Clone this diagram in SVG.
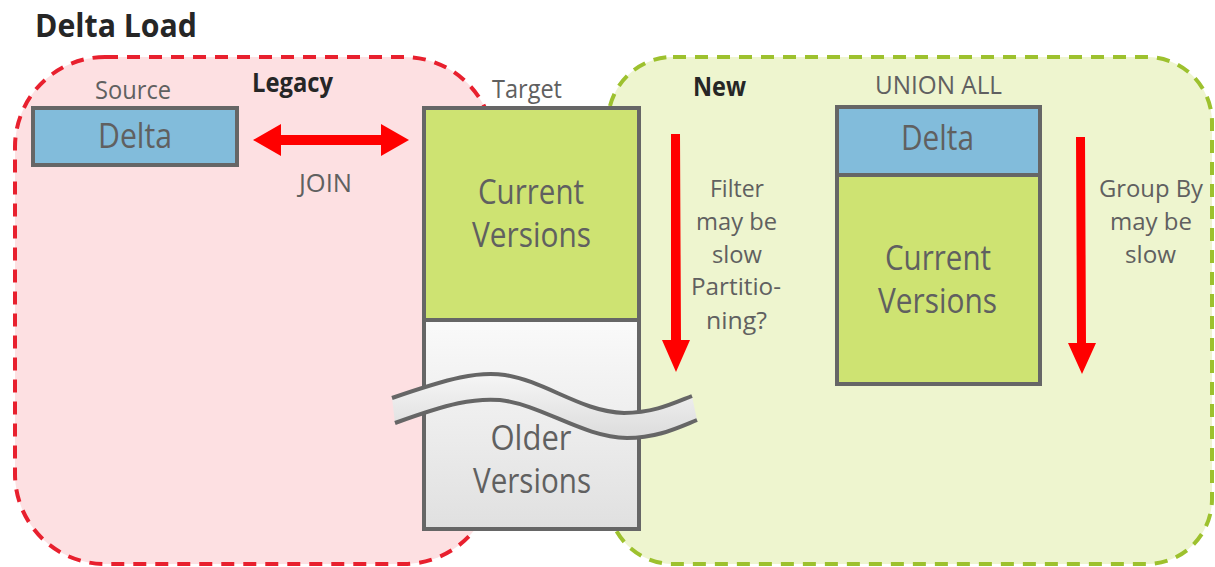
<svg xmlns="http://www.w3.org/2000/svg" width="1215" height="567" viewBox="0 0 1215 567">
<defs>
<linearGradient id="gOld" x1="0" y1="0" x2="0" y2="1">
<stop offset="0" stop-color="#FAFAFA"/>
<stop offset="1" stop-color="#E0E0E0"/>
</linearGradient>
<linearGradient id="gBand" x1="0" y1="0" x2="0" y2="1">
<stop offset="0" stop-color="#F6F6F6"/>
<stop offset="1" stop-color="#DCDCDC"/>
</linearGradient>
<style>
.t{font-family:"Open Sans","Noto Sans","Liberation Sans",sans-serif;fill:#606060;text-anchor:middle}
.b{font-family:"Open Sans","Noto Sans","Liberation Sans",sans-serif;font-weight:bold;fill:#262626}
.box{stroke:#666666;stroke-width:4}
.blue{fill:#82BCDB}
.green{fill:#CEE372}
.arrow{fill:#FF0000}
.wave{fill:none;stroke:#666666;stroke-width:4}
</style>
</defs>
<rect width="1215" height="567" fill="#FFFFFF"/>
<text class="b" x="35" y="37" font-size="32" textLength="162" lengthAdjust="spacingAndGlyphs">Delta Load</text>

<g id="legacy">
<rect x="15" y="57" width="479" height="507" rx="90" ry="90" fill="#FDE0E2" stroke="#E8202E" stroke-width="4" stroke-dasharray="13 9"/>
<text class="b" x="252" y="92" font-size="26" textLength="81" lengthAdjust="spacingAndGlyphs">Legacy</text>
</g>
<g id="new">
<rect x="608" y="57" width="604" height="507" rx="65" ry="65" fill="#EEF5CF" stroke="#9DC12E" stroke-width="4" stroke-dasharray="13 9"/>
<text class="b" x="693" y="96" font-size="26" textLength="53" lengthAdjust="spacingAndGlyphs">New</text>
</g>

<g id="source">
<text class="t" x="133" y="99" font-size="26" textLength="76" lengthAdjust="spacingAndGlyphs">Source</text>
<rect class="box blue" x="33" y="108" width="204" height="57"/>
<text class="t" x="135" y="148" font-size="34" textLength="74" lengthAdjust="spacingAndGlyphs">Delta</text>
</g>

<g id="target">
<text class="t" x="527" y="98" font-size="26" textLength="70" lengthAdjust="spacingAndGlyphs">Target</text>
<rect class="box green" x="424" y="108" width="215" height="212"/>
<rect class="box" x="424" y="320" width="215" height="209" fill="url(#gOld)"/>
<text class="t" x="531" y="204" font-size="34" textLength="106" lengthAdjust="spacingAndGlyphs">Current</text>
<text class="t" x="531.5" y="247" font-size="34" textLength="119" lengthAdjust="spacingAndGlyphs">Versions</text>
<path d="M392,398 C450,378 478,371 505,375 C545,381 582,412 624,413 C654,413 674,403 692,396 L697,420 C677,428 657,438 627,438 C582,437 543,405 500,400 C474,398 450,403 395,423 Z" fill="url(#gBand)"/>
<path class="wave" d="M392,398 C450,378 478,371 505,375 C545,381 582,412 624,413 C654,413 674,403 692,396"/>
<path class="wave" d="M395,423 C450,403 474,398 500,400 C543,405 582,437 627,438 C657,438 677,428 697,420"/>
<text class="t" x="531" y="450" font-size="34" textLength="81" lengthAdjust="spacingAndGlyphs">Older</text>
<text class="t" x="532" y="493" font-size="34" textLength="118" lengthAdjust="spacingAndGlyphs">Versions</text>
</g>

<g id="union">
<text class="t" x="938.5" y="94" font-size="25" textLength="127" lengthAdjust="spacingAndGlyphs">UNION ALL</text>
<rect class="box blue" x="837" y="107" width="203" height="68"/>
<rect class="box green" x="837" y="175" width="203" height="209"/>
<text class="t" x="937.5" y="150" font-size="34" textLength="73" lengthAdjust="spacingAndGlyphs">Delta</text>
<text class="t" x="938" y="270" font-size="34" textLength="106" lengthAdjust="spacingAndGlyphs">Current</text>
<text class="t" x="937.5" y="313" font-size="34" textLength="119" lengthAdjust="spacingAndGlyphs">Versions</text>
</g>

<g id="connectors">
<polygon class="arrow" points="253,140 281,124 281,135 381,135 381,124 409,140 381,156 381,145 281,145 281,156"/>
<polygon class="arrow" points="671,134 680,134 681,340 690,340 676,372 662,340 671,340"/>
<polygon class="arrow" points="1076,137 1085,137 1086,343 1096,343 1082,374 1068,343 1077,343"/>
</g>

<g id="labels">
<text class="t" x="325.5" y="192" font-size="26" textLength="53" lengthAdjust="spacingAndGlyphs">JOIN</text>
<text class="t" x="737" y="197" font-size="24" textLength="54" lengthAdjust="spacingAndGlyphs">Filter</text>
<text class="t" x="736.5" y="230" font-size="24" textLength="81" lengthAdjust="spacingAndGlyphs">may be</text>
<text class="t" x="737" y="263" font-size="24" textLength="50" lengthAdjust="spacingAndGlyphs">slow</text>
<text class="t" x="736" y="295" font-size="23" textLength="90" lengthAdjust="spacingAndGlyphs">Partitio-</text>
<text class="t" x="736.5" y="329" font-size="23" textLength="61" lengthAdjust="spacingAndGlyphs">ning?</text>
<text class="t" x="1151" y="197" font-size="24" textLength="104" lengthAdjust="spacingAndGlyphs">Group By</text>
<text class="t" x="1151" y="230" font-size="24" textLength="82" lengthAdjust="spacingAndGlyphs">may be</text>
<text class="t" x="1150.5" y="263" font-size="24" textLength="51" lengthAdjust="spacingAndGlyphs">slow</text>
</g>
</svg>
